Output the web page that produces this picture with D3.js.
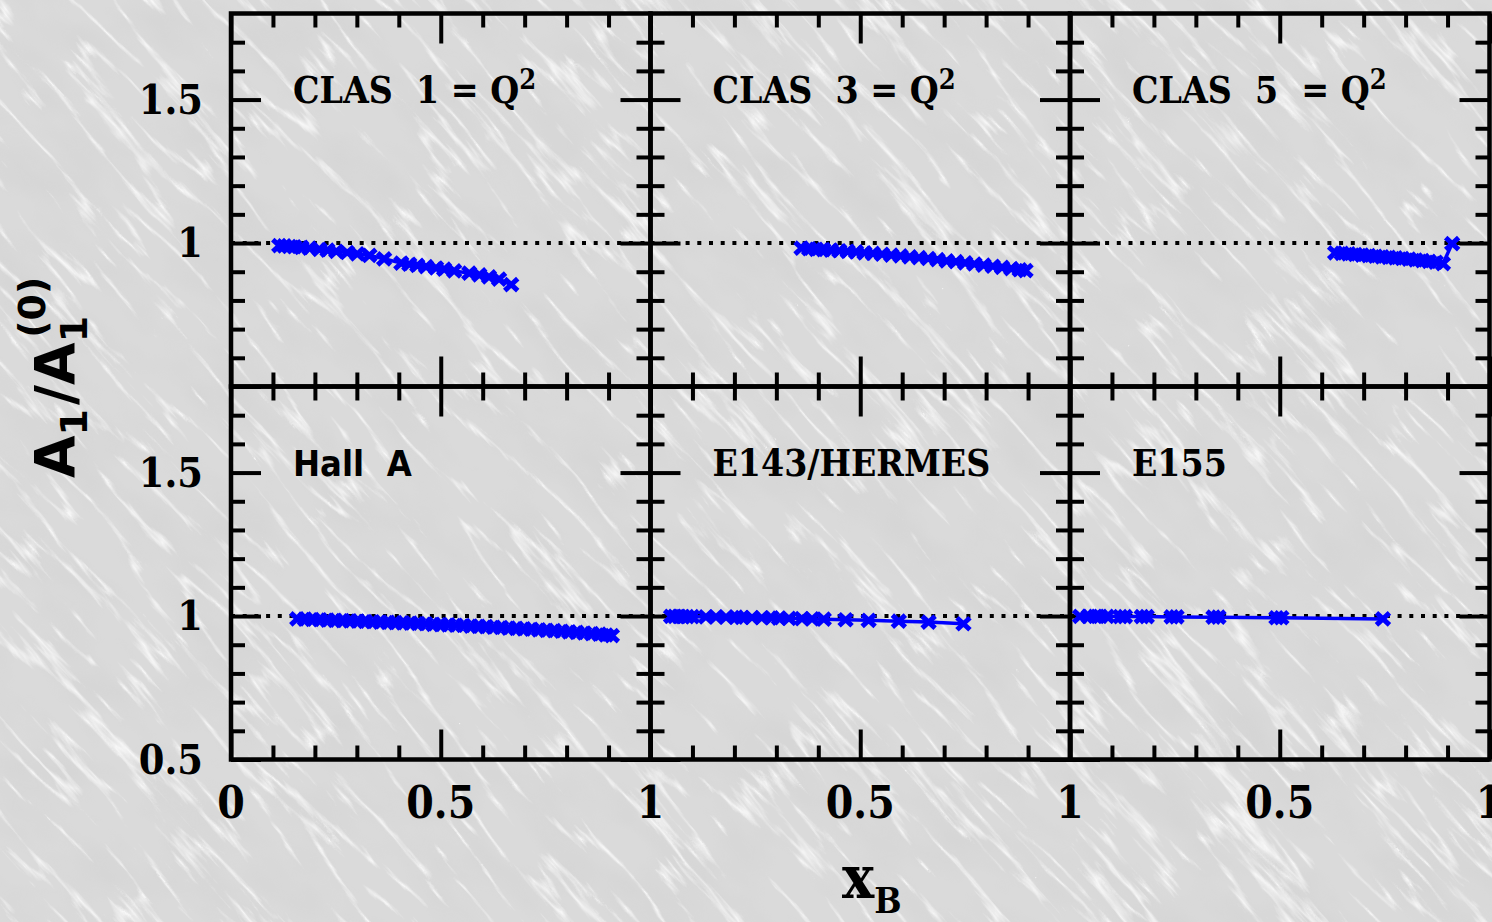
<!DOCTYPE html>
<html>
<head>
<meta charset="utf-8">
<script src="https://cdn.jsdelivr.net/npm/d3@7/dist/d3.min.js"></script>
<style>
  html, body { margin: 0; padding: 0; background: #dadada; overflow: hidden; }
  svg { display: block; }
  text { white-space: pre; }
</style>
</head>
<body>
<script>
// ---- data: A1 / A1(0) versus x_B for six experimental kinematics ----
const clas1X = [0.115,0.127,0.139,0.151,0.168,0.187,0.211,0.230,0.251,0.277,0.301,0.330,0.365,0.406,0.425,0.444,0.465,0.489,0.508,0.532,0.568,0.592,0.615,0.639,0.668];
const clas1Y = [0.991,0.990,0.988,0.987,0.985,0.982,0.978,0.975,0.971,0.967,0.962,0.957,0.945,0.930,0.926,0.922,0.918,0.913,0.909,0.903,0.895,0.889,0.882,0.874,0.855];

const clas3X = [0.360,0.378,0.395,0.412,0.430,0.450,0.470,0.490,0.510,0.530,0.552,0.574,0.596,0.618,0.640,0.662,0.684,0.706,0.728,0.750,0.772,0.794,0.816,0.838,0.860,0.880,0.894];
const clas3Y = [0.982,0.980,0.978,0.977,0.975,0.973,0.971,0.969,0.966,0.964,0.961,0.958,0.955,0.952,0.949,0.946,0.942,0.938,0.935,0.931,0.927,0.923,0.919,0.915,0.911,0.907,0.904];

const clas5X = [0.632,0.648,0.664,0.680,0.696,0.712,0.728,0.744,0.760,0.776,0.792,0.808,0.824,0.840,0.856,0.872,0.889,0.911];
const clas5Y = [0.966,0.964,0.962,0.960,0.958,0.956,0.954,0.952,0.950,0.948,0.946,0.944,0.941,0.939,0.936,0.933,0.928,0.998];

const hallAX = [0.158,0.176,0.194,0.212,0.230,0.248,0.266,0.284,0.302,0.320,0.338,0.356,0.374,0.392,0.410,0.428,0.446,0.464,0.482,0.500,0.518,0.536,0.554,0.572,0.590,0.608,0.626,0.644,0.662,0.680,0.698,0.716,0.734,0.752,0.770,0.788,0.806,0.824,0.842,0.860,0.878,0.894,0.908];
const hallAY = [0.990,0.989,0.988,0.987,0.986,0.985,0.984,0.983,0.982,0.981,0.980,0.979,0.978,0.977,0.976,0.975,0.974,0.973,0.971,0.970,0.969,0.968,0.967,0.965,0.964,0.963,0.961,0.960,0.958,0.957,0.955,0.954,0.952,0.950,0.949,0.947,0.945,0.943,0.941,0.939,0.937,0.934,0.932];

const e143X = [0.049,0.058,0.068,0.077,0.087,0.099,0.132,0.156,0.180,0.204,0.218,0.242,0.265,0.289,0.306,0.330,0.361,0.385,0.413,0.465,0.520,0.592,0.663,0.746];
const e143Y = [0.999,0.999,0.999,0.998,0.998,0.998,0.997,0.997,0.996,0.996,0.995,0.995,0.994,0.994,0.993,0.992,0.991,0.990,0.989,0.987,0.985,0.982,0.979,0.973];

const e155X = [0.024,0.044,0.060,0.072,0.088,0.120,0.131,0.171,0.183,0.242,0.254,0.342,0.354,0.492,0.504,0.746];
const e155Y = [0.999,0.999,0.999,0.999,0.999,0.998,0.998,0.998,0.998,0.997,0.997,0.996,0.996,0.994,0.994,0.990];

const seriesX = [clas1X, clas3X, clas5X, hallAX, e143X, e155X];
const seriesY = [clas1Y, clas3Y, clas5Y, hallAY, e143Y, e155Y];

const panelTitles   = ["CLAS  1 = Q", "CLAS  3 = Q", "CLAS  5  = Q", "Hall  A", "E143/HERMES", "E155"];
const panelTitleSup = ["2", "2", "2", "", "", ""];

const xTicksMajor = [0, 0.5, 1];
const xTicksMinor = [0.1, 0.2, 0.3, 0.4, 0.6, 0.7, 0.8, 0.9];
const yTicksMajor = [0.5, 1, 1.5];
const yTicksMinor = [0.6, 0.7, 0.8, 0.9, 1.1, 1.2, 1.3, 1.4, 1.6, 1.7];
const xTickLabelsByCol = [[0, 0.5, 1], [0.5, 1], [0.5, 1]];
const yTickLabelsByRow = [[1, 1.5], [0.5, 1, 1.5]];
const xDomain = [0, 1];
const yDomain = [0.5, 1.8];
const referenceLevel = 1;

// ---- layout ----
const W = 1492, H = 922;
const plotLeft = 231, plotTop = 13.5, panelW = 419.5, panelH = 373;
const nCols = 3, nRows = 2;
const majorLen = 30, minorLen = 14;
const serif = "'DejaVu Serif', 'Liberation Serif', serif";
const sans = "'DejaVu Sans', 'Liberation Sans', sans-serif";
const blue = "#0000ff";

const svg = d3.select("body").append("svg").attr("width", W).attr("height", H);

// marbled paper backdrop
const defs = svg.append("defs");
const veins = defs.append("filter").attr("id", "veins")
  .attr("x", "0%").attr("y", "0%").attr("width", "100%").attr("height", "100%");
veins.append("feTurbulence").attr("type", "turbulence")
  .attr("baseFrequency", "0.006 0.04").attr("numOctaves", 4).attr("seed", 7).attr("result", "t");
veins.append("feColorMatrix").attr("in", "t").attr("type", "matrix")
  .attr("values", "0 0 0 0 1  0 0 0 0 1  0 0 0 0 1  -5.5 0 0 0 1.1").attr("result", "v");
veins.append("feGaussianBlur").attr("in", "v").attr("stdDeviation", 0.5);

const mottle = defs.append("filter").attr("id", "mottle")
  .attr("x", "0%").attr("y", "0%").attr("width", "100%").attr("height", "100%");
mottle.append("feTurbulence").attr("type", "fractalNoise")
  .attr("baseFrequency", "0.012 0.02").attr("numOctaves", 3).attr("seed", 11).attr("result", "n");
mottle.append("feColorMatrix").attr("in", "n").attr("type", "matrix")
  .attr("values", "0 0 0 0 0.55  0 0 0 0 0.55  0 0 0 0 0.55  1.4 0 0 0 -0.55");

svg.append("rect").attr("width", W).attr("height", H).attr("fill", "#dadada");
svg.append("g").attr("transform", `rotate(38 ${W / 2} ${H / 2})`)
  .append("rect").attr("x", W / 2 - 1000).attr("y", H / 2 - 1000).attr("width", 2000).attr("height", 2000)
  .attr("filter", "url(#mottle)").attr("opacity", 0.3);
svg.append("g").attr("transform", `rotate(48 ${W / 2} ${H / 2})`)
  .append("rect").attr("x", W / 2 - 1000).attr("y", H / 2 - 1000).attr("width", 2000).attr("height", 2000)
  .attr("filter", "url(#veins)").attr("opacity", 0.8);

const markerPath = "M-6.5,-6L6.5,6M-6.5,6L6.5,-6";

function styleTicks(g) {
  g.select(".domain").remove();
  g.selectAll(".tick line").attr("stroke", "#000").attr("stroke-width", 4);
  g.selectAll(".tick text").remove();
}

for (let r = 0; r < nRows; r++) {
  for (let c = 0; c < nCols; c++) {
    const idx = r * nCols + c;
    const x = d3.scaleLinear().domain(xDomain).range([plotLeft + c * panelW, plotLeft + (c + 1) * panelW]);
    const y = d3.scaleLinear().domain(yDomain).range([plotTop + (r + 1) * panelH, plotTop + r * panelH]);
    const g = svg.append("g");

    // reference line at unity
    g.append("line")
      .attr("x1", x(xDomain[0])).attr("x2", x(xDomain[1]))
      .attr("y1", y(referenceLevel)).attr("y2", y(referenceLevel))
      .attr("stroke", "#000").attr("stroke-width", 4).attr("stroke-dasharray", "4 7.7");

    // ticks on all four sides, pointing inward
    const sides = [
      { axis: () => d3.axisBottom(x), t: `translate(0,${y(yDomain[0])})`, maj: xTicksMajor, min: xTicksMinor },
      { axis: () => d3.axisTop(x),    t: `translate(0,${y(yDomain[1])})`, maj: xTicksMajor, min: xTicksMinor },
      { axis: () => d3.axisLeft(y),   t: `translate(${x(xDomain[0])},0)`, maj: yTicksMajor, min: yTicksMinor },
      { axis: () => d3.axisRight(y),  t: `translate(${x(xDomain[1])},0)`, maj: yTicksMajor, min: yTicksMinor }
    ];
    sides.forEach(s => {
      g.append("g").attr("transform", s.t)
        .call(s.axis().tickValues(s.maj).tickSizeInner(-majorLen).tickSizeOuter(0).tickFormat(""))
        .call(styleTicks);
      g.append("g").attr("transform", s.t)
        .call(s.axis().tickValues(s.min).tickSizeInner(-minorLen).tickSizeOuter(0).tickFormat(""))
        .call(styleTicks);
    });

    // frame
    g.append("rect")
      .attr("x", x(xDomain[0])).attr("y", y(yDomain[1]))
      .attr("width", x(xDomain[1]) - x(xDomain[0])).attr("height", y(yDomain[0]) - y(yDomain[1]))
      .attr("fill", "none").attr("stroke", "#000").attr("stroke-width", 4.5);

    // data
    const pts = seriesX[idx].map((v, i) => [v, seriesY[idx][i]]);
    g.append("path").datum(pts)
      .attr("d", d3.line().x(d => x(d[0])).y(d => y(d[1])))
      .attr("fill", "none").attr("stroke", blue).attr("stroke-width", 3.5);
    g.selectAll(".mk").data(pts).join("path")
      .attr("class", "mk")
      .attr("transform", d => `translate(${x(d[0])},${y(d[1])})`)
      .attr("d", markerPath)
      .attr("stroke", blue).attr("stroke-width", 5).attr("fill", "none");

    // panel title
    const isSans = panelTitles[idx].startsWith("Hall");
    const title = g.append("text")
      .attr("x", x(xDomain[0]) + 62).attr("y", y(yDomain[1]) + 89)
      .attr("font-family", isSans ? sans : serif)
      .attr("font-weight", "bold")
      .attr("font-size", isSans ? 36 : 37)
      .style("font-stretch", "condensed")
      .attr("fill", "#000");
    title.append("tspan").text(panelTitles[idx]);
    if (panelTitleSup[idx]) {
      title.append("tspan").attr("dy", -14).attr("font-size", 27).text(panelTitleSup[idx]);
    }

    // tick labels on outer edges
    if (r === nRows - 1) {
      g.selectAll(".xl").data(xTickLabelsByCol[c]).join("text")
        .attr("class", "xl")
        .attr("x", d => x(d)).attr("y", y(yDomain[0]) + 58)
        .attr("text-anchor", "middle")
        .attr("font-family", serif).attr("font-weight", "bold").attr("font-size", 44)
        .style("font-stretch", "condensed")
        .text(d => d3.format("")(d));
    }
    if (c === 0) {
      g.selectAll(".yl").data(yTickLabelsByRow[r]).join("text")
        .attr("class", "yl")
        .attr("x", x(xDomain[0]) - 28).attr("y", d => y(d) + 14)
        .attr("text-anchor", "end")
        .attr("font-family", serif).attr("font-weight", "bold").attr("font-size", 41)
        .style("font-stretch", "condensed")
        .text(d => d3.format("")(d));
    }
  }
}

// axis titles
const xt = svg.append("text").attr("x", 842).attr("y", 898)
  .attr("font-family", serif).attr("font-weight", "bold").attr("font-size", 60)
  .style("font-stretch", "condensed");
xt.append("tspan").text("x");
xt.append("tspan").attr("dy", 15).attr("font-size", 36).text("B");

const yt = svg.append("text")
  .attr("transform", "translate(74,478) rotate(-90)")
  .attr("font-family", sans).attr("font-weight", "bold").attr("font-size", 55);
yt.append("tspan").text("A");
yt.append("tspan").attr("dy", 13).attr("font-size", 38).text("1");
yt.append("tspan").attr("dy", -13).attr("dx", 4).text("/A");
yt.append("tspan").attr("dy", 13).attr("font-size", 38).text("1");
yt.append("tspan").attr("dy", -42).attr("dx", -22).attr("font-size", 38).text("(0)");
</script>
</body>
</html>
